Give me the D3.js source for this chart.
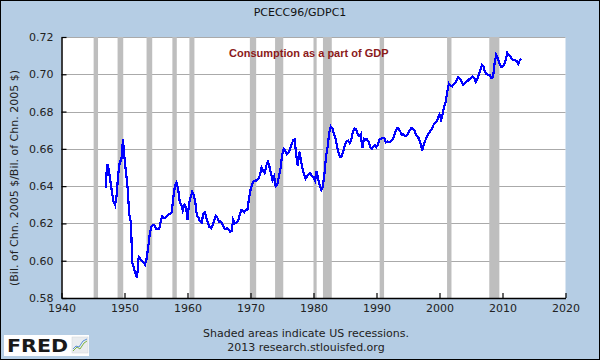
<!DOCTYPE html>
<html><head><meta charset="utf-8">
<script src="https://cdn.jsdelivr.net/npm/d3@7"></script>
<style>html,body{margin:0;padding:0;background:#fff}svg{display:block}</style>
</head><body>
<svg id="c" width="600" height="360"></svg>
<script>
const chartTitle = "PCECC96/GDPC1";
const annotation = "Consumption as a part of GDP";
const yAxisTitle = "(Bil. of Chn. 2005 $/Bil. of Chn. 2005 $)";
const footerLines = ["Shaded areas indicate US recessions.", "2013 research.stlouisfed.org"];
const xTicks = [1940, 1950, 1960, 1970, 1980, 1990, 2000, 2010, 2020];
const yTicks = [0.58, 0.60, 0.62, 0.64, 0.66, 0.68, 0.70, 0.72];
const recessions = [
  [1945.1, 1945.8], [1948.9, 1949.8], [1953.5, 1954.4], [1957.6, 1958.3],
  [1960.3, 1961.1], [1969.9, 1970.9], [1973.9, 1975.2], [1980.0, 1980.5],
  [1981.5, 1982.9], [1990.5, 1991.2], [2001.2, 2001.9], [2007.9, 2009.5]
];
const seriesStart = 1947; // 1947Q1, quarterly
const ratio = [
  0.639, 0.652, 0.649, 0.643,
  0.637, 0.632, 0.630, 0.635,
  0.646, 0.653, 0.654, 0.665,
  0.655, 0.647, 0.639, 0.625,
  0.621, 0.599, 0.596, 0.593,
  0.591, 0.602, 0.601, 0.600,
  0.599, 0.598, 0.601, 0.607,
  0.614, 0.618, 0.619, 0.619,
  0.617, 0.617, 0.617, 0.621,
  0.624, 0.623, 0.623, 0.624,
  0.625, 0.625, 0.626, 0.634,
  0.640, 0.642, 0.639, 0.632,
  0.630, 0.627, 0.630, 0.629,
  0.622, 0.631, 0.634, 0.637,
  0.635, 0.631, 0.624, 0.623,
  0.621, 0.6205, 0.625, 0.626,
  0.623, 0.620, 0.618, 0.6175,
  0.619, 0.622, 0.624, 0.623,
  0.621, 0.621, 0.620, 0.618,
  0.617, 0.6175, 0.617, 0.6155,
  0.616, 0.622, 0.620, 0.6205,
  0.621, 0.624, 0.627, 0.627,
  0.626, 0.627, 0.627, 0.633,
  0.638, 0.641, 0.6425, 0.643,
  0.643, 0.644, 0.646, 0.650,
  0.648, 0.647, 0.651, 0.653,
  0.6505, 0.647, 0.643, 0.645,
  0.640, 0.641, 0.645, 0.649,
  0.656, 0.660, 0.659, 0.657,
  0.658, 0.6595, 0.662, 0.6645,
  0.665, 0.657, 0.651, 0.6585,
  0.654, 0.6495, 0.6465, 0.644,
  0.6455, 0.6465, 0.647, 0.6455,
  0.645, 0.643, 0.648, 0.6435,
  0.640, 0.638, 0.640, 0.647,
  0.6565, 0.661, 0.669, 0.672,
  0.671, 0.668, 0.6655, 0.661,
  0.6575, 0.6555, 0.656, 0.659,
  0.662, 0.664, 0.6645, 0.663,
  0.665, 0.669, 0.671, 0.6705,
  0.668, 0.667, 0.668, 0.6605,
  0.6655, 0.665, 0.665, 0.664,
  0.661, 0.660, 0.661, 0.662,
  0.661, 0.6625, 0.665, 0.6655,
  0.666, 0.6655, 0.6635, 0.664,
  0.6635, 0.664, 0.665, 0.6665,
  0.669, 0.671, 0.671, 0.6695,
  0.6675, 0.668, 0.667, 0.667,
  0.668, 0.670, 0.671, 0.671,
  0.670, 0.668, 0.6665, 0.6655,
  0.663, 0.659, 0.6625, 0.6645,
  0.6665, 0.668, 0.6695, 0.6705,
  0.6725, 0.674, 0.6745, 0.6765,
  0.6785, 0.6755, 0.6785, 0.683,
  0.6855, 0.691, 0.695, 0.694,
  0.6935, 0.6945, 0.6955, 0.697,
  0.6985, 0.6977, 0.696, 0.6945,
  0.695, 0.696, 0.6965, 0.6975,
  0.698, 0.699, 0.698, 0.696,
  0.6975, 0.700, 0.7025, 0.705,
  0.704, 0.701, 0.700, 0.6995,
  0.6995, 0.698, 0.6985, 0.706,
  0.7105, 0.709, 0.706, 0.704,
  0.704, 0.705, 0.7075, 0.7115,
  0.7105, 0.7095, 0.708, 0.7075,
  0.7075, 0.707, 0.7055, 0.7075,
  0.7085
];

const W = 600, H = 360;
const plot = {left: 61.5, right: 565.5, top: 37, bottom: 298};
const font = "'DejaVu Sans', Verdana, sans-serif";
const svg = d3.select("#c");

// background + border
svg.append("rect").attr("x", 0.5).attr("y", 0.5).attr("width", W - 1).attr("height", H - 1)
  .attr("fill", "#b5cde4").attr("stroke", "#000").attr("stroke-width", 1);

const x = d3.scaleLinear().domain([1940, 2020]).range([plot.left, plot.right]);
const y = d3.scaleLinear().domain([0.58, 0.72]).range([plot.bottom, plot.top]);

// plot area
svg.append("rect").attr("x", plot.left).attr("y", plot.top)
  .attr("width", plot.right - plot.left).attr("height", plot.bottom - plot.top)
  .attr("fill", "#fff");

// gridlines
svg.append("g").selectAll("line").data(yTicks.filter(d => d > 0.58)).join("line")
  .attr("x1", plot.left).attr("x2", plot.right)
  .attr("y1", d => Math.round(y(d)) + 0.5).attr("y2", d => Math.round(y(d)) + 0.5)
  .attr("stroke", "#aaaaaa").attr("stroke-width", 1);

// recession shading
svg.append("g").selectAll("rect").data(recessions).join("rect")
  .attr("x", d => x(d[0])).attr("width", d => x(d[1]) - x(d[0]))
  .attr("y", plot.top).attr("height", plot.bottom - plot.top)
  .attr("fill", "#bebebe");

// series line
const line = d3.line().x((d, i) => x(seriesStart + i / 4)).y(d => y(d));
svg.append("path").datum(ratio).attr("d", line)
  .attr("fill", "none").attr("stroke", "#0000ff").attr("stroke-width", 2.2)
  .attr("stroke-linejoin", "miter").attr("shape-rendering", "crispEdges");

// axes
const yAxis = d3.axisLeft(y).tickValues(yTicks).tickFormat(d3.format(".2f"))
  .tickSizeInner(-5).tickSizeOuter(0).tickPadding(8);
const gy = svg.append("g").attr("transform", `translate(${plot.left},0)`).call(yAxis);
const xAxis = d3.axisBottom(x).tickValues(xTicks).tickFormat(d3.format("d"))
  .tickSizeInner(-5).tickSizeOuter(0).tickPadding(6);
const gx = svg.append("g").attr("transform", `translate(0,${plot.bottom})`).call(xAxis);
[gx, gy].forEach(g => {
  g.selectAll("path.domain").attr("stroke", "#000").attr("stroke-width", 1.5);
  g.selectAll(".tick line").attr("stroke", "#000").attr("stroke-width", 1.2);
  g.selectAll("text").attr("font-family", font).attr("font-size", 11).attr("fill", "#222");
});

// title
svg.append("text").attr("x", 300).attr("y", 16).attr("text-anchor", "middle")
  .attr("font-family", font).attr("font-size", 11).attr("fill", "#111").text(chartTitle);

// annotation
svg.append("text").attr("x", 229).attr("y", 57)
  .attr("font-family", "'Liberation Sans', Arial, sans-serif").attr("font-weight", "bold")
  .attr("font-size", 11).attr("fill", "#8b1a1a").text(annotation);

// y axis title
svg.append("text").attr("transform", "translate(18,178) rotate(-90)")
  .attr("text-anchor", "middle").attr("font-family", font).attr("font-size", 11)
  .attr("fill", "#222").text(yAxisTitle);

// footer
svg.append("g").selectAll("text").data(footerLines).join("text")
  .attr("x", 306).attr("y", (d, i) => 337 + i * 14).attr("text-anchor", "middle")
  .attr("font-family", font).attr("font-size", 11).attr("fill", "#222").text(d => d);

// FRED logo
const logo = svg.append("g");
logo.append("rect").attr("x", 4).attr("y", 335).attr("width", 85).attr("height", 21).attr("fill", "#fff");
logo.append("text").attr("x", 7).attr("y", 352).attr("font-family", "'DejaVu Sans', sans-serif")
  .attr("font-weight", "bold").attr("font-size", 18).attr("fill", "#1a1a1a")
  .attr("textLength", 61).attr("lengthAdjust", "spacingAndGlyphs").text("FRED");
logo.append("rect").attr("x", 72).attr("y", 337).attr("width", 16).attr("height", 16)
  .attr("fill", "#e9ecef").attr("stroke", "#d0d4d8").attr("stroke-width", 0.5);
logo.append("path").attr("d", "M73,351 L77,347 L80,349 L84,343 L87,341")
  .attr("fill", "none").attr("stroke", "#7cb342").attr("stroke-width", 1);
logo.append("path").attr("d", "M73,349 L76,346 L79,347 L83,341 L87,339")
  .attr("fill", "none").attr("stroke", "#5b8fd6").attr("stroke-width", 1);
</script>
</body></html>
